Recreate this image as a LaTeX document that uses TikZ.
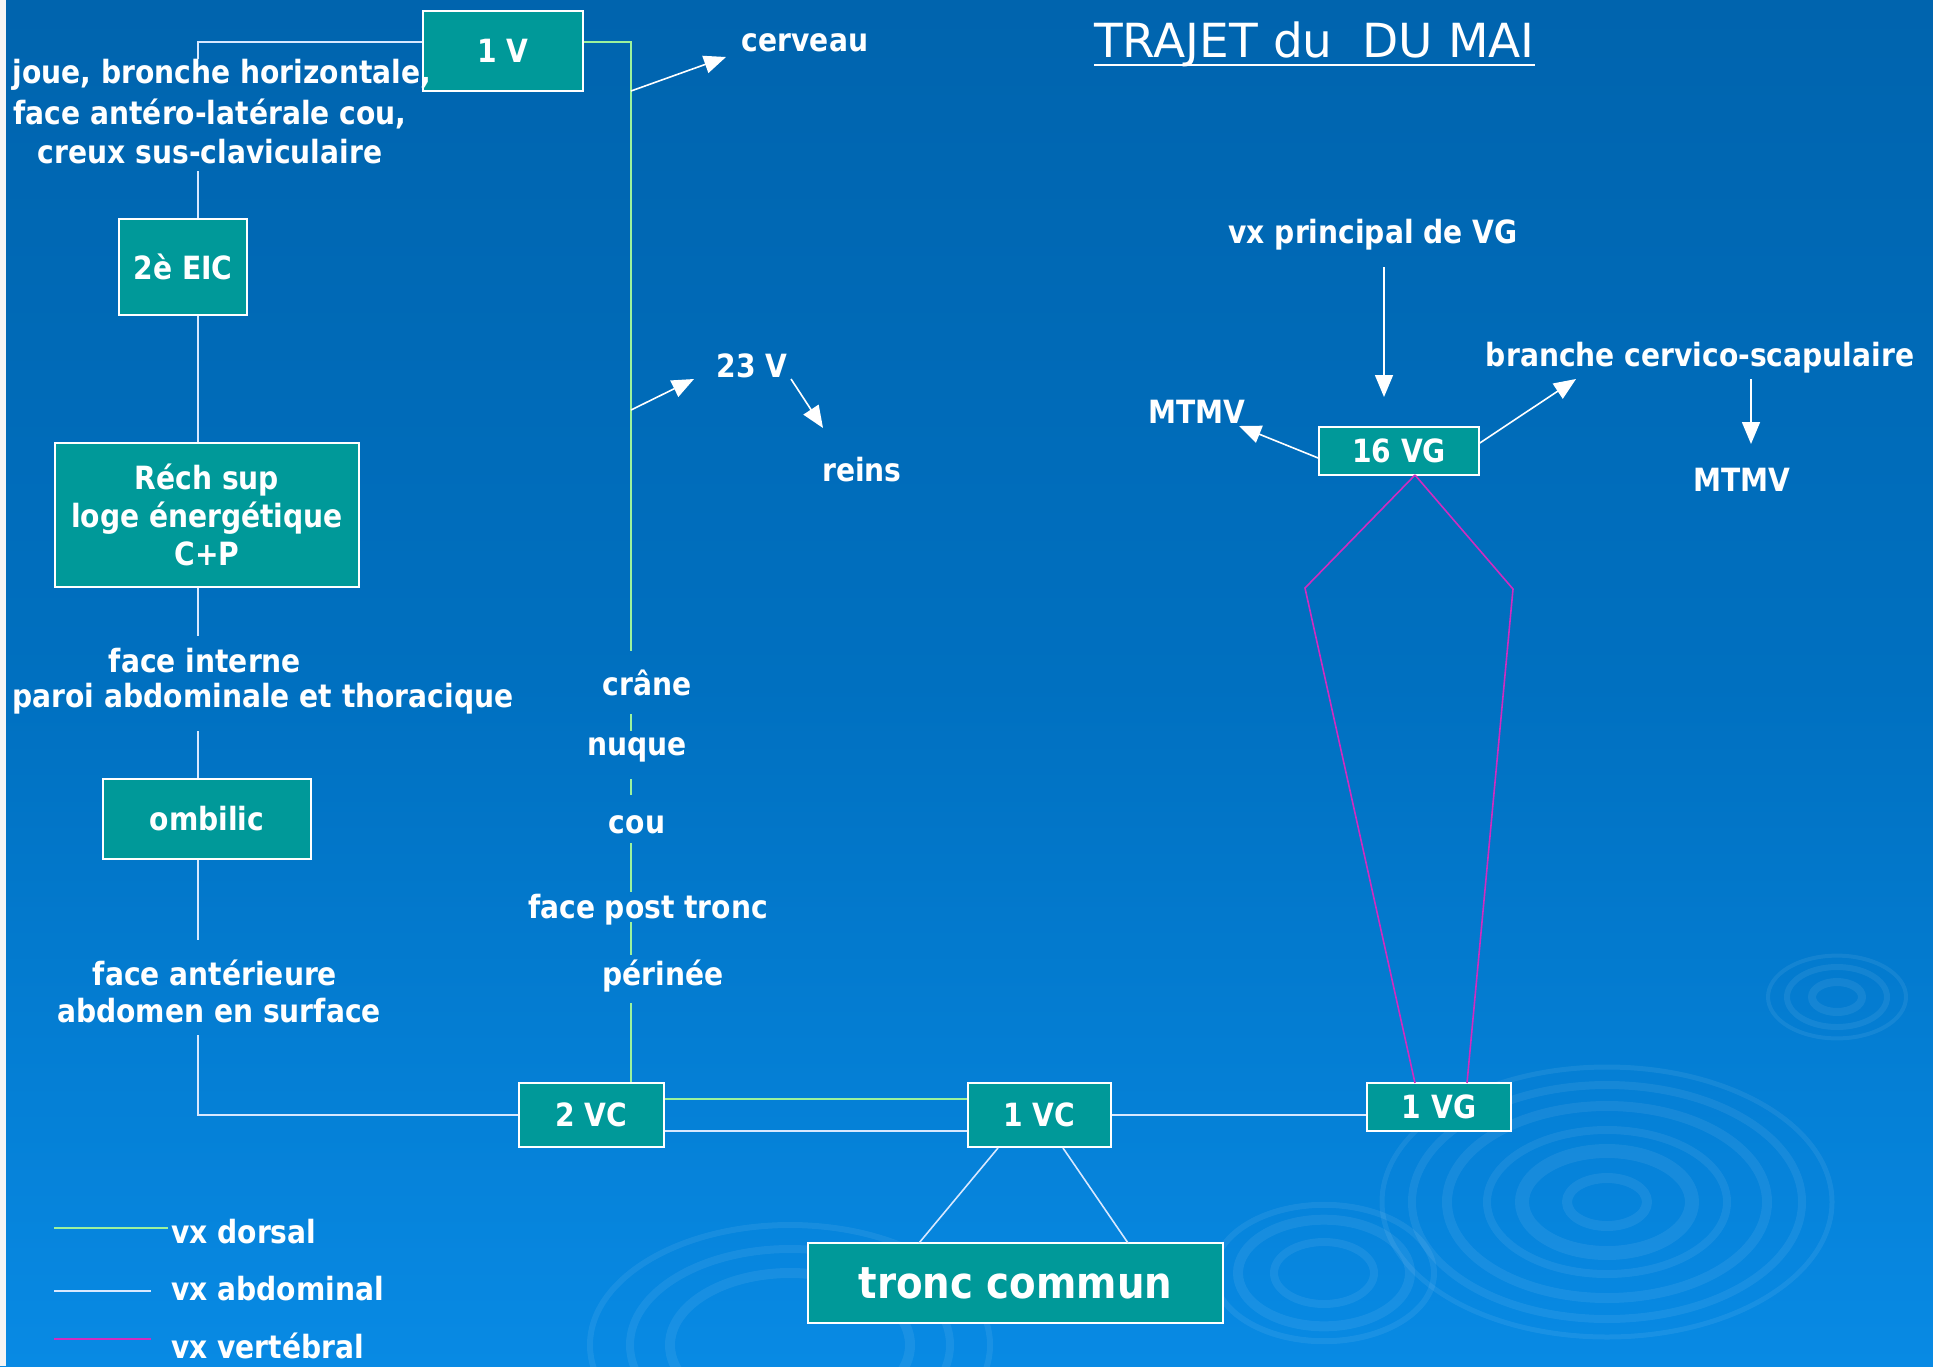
\documentclass[tikz,border=0pt]{standalone}
\usepackage{fontspec}
\setmainfont{DejaVu Sans}[FakeStretch=0.88]
\newfontfamily\titlefont{DejaVu Sans}
\usetikzlibrary{arrows.meta}
\definecolor{bgtop}{HTML}{0064AE}
\definecolor{bgmid}{HTML}{0070C0}
\definecolor{bgbot}{HTML}{088AE4}
\definecolor{boxteal}{HTML}{009999}
\definecolor{dorsal}{HTML}{9CF29C}
\definecolor{abdo}{HTML}{D8E8FF}
\definecolor{vert}{HTML}{D02CC0}
\begin{document}
\begin{tikzpicture}[x=1pt,y=-1pt,
 box/.style={draw=white, line width=1.6pt, fill=boxteal, text=white, font=\bfseries\fontsize{32}{38}\selectfont, inner sep=0pt, align=center},
 lbl/.style={text=white, font=\bfseries\fontsize{32}{38}\selectfont, inner sep=0pt, align=center},
 dors/.style={draw=dorsal, line width=1.6pt},
 abd/.style={draw=abdo, line width=1.6pt},
 vtb/.style={draw=vert, line width=1.6pt},
 arr/.style={draw=white, line width=1.6pt, -{Triangle[length=22pt,width=18pt]}},
 rip/.style={draw=white, draw opacity=0.07, line width=#1},
 rip/.default=6pt,
]
% background
\useasboundingbox (0,0) rectangle (1933,1366);
\shade[top color=bgtop, bottom color=bgbot, middle color=bgmid] (0,0) rectangle (1933,1366);
\fill[white!92!gray] (0,0) rectangle (6,1366);
% ripples
\foreach \r/\w in {225/5pt,195/8pt,160/10pt,120/8pt,85/14pt,40/10pt}
  \draw[rip=\w] (1607,1202) ellipse [x radius=\r, y radius=0.6*\r];
\foreach \r/\w in {69/4pt,50/6pt,25/8pt}
  \draw[rip=\w] (1837,997) ellipse [x radius=\r, y radius=0.6*\r];
\foreach \r/\w in {110/6pt,86/10pt,50/8pt}
  \draw[rip=\w] (1324,1273) ellipse [x radius=\r, y radius=0.62*\r];
\foreach \r/\w in {200/6pt,160/8pt,120/10pt}
  \draw[rip=\w] (790,1345) ellipse [x radius=\r, y radius=0.6*\r];

% title
\node[text=white, font=\titlefont\fontsize{47}{50}\selectfont, inner sep=0pt, anchor=base west] (title) at (1094,57) {TRAJET du\ \ DU MAI};
\draw[white, line width=2.5pt] (title.base west |- 0,65) -- (title.base east |- 0,65);

% boxes
\node[box, minimum width=160, minimum height=80] (v1) at (503,51) {1 V};
\node[box, minimum width=128, minimum height=96] (eic) at (183,267) {2è EIC};
\node[box, minimum width=304, minimum height=144] (rech) at (207,515) {Réch sup\\loge énergétique\\C+P};
\node[box, minimum width=208, minimum height=80] (omb) at (207,819) {ombilic};
\node[box, minimum width=145, minimum height=64] (vc2) at (591.5,1115) {2 VC};
\node[box, minimum width=143, minimum height=64] (vc1) at (1039.5,1115) {1 VC};
\node[box, minimum width=144, minimum height=48] (vg1) at (1439,1107) {1 VG};
\node[box, minimum width=160, minimum height=48] (vg16) at (1399,451) {16 VG};
\node[box, minimum width=415, minimum height=80, font=\bfseries\fontsize{44}{48}\selectfont] (tronc) at (1015.5,1283) {tronc commun};

% left labels
\node[lbl] (j1) at (222,75) {joue, bronche horizontale,};
\node[lbl] (j2) at (210,114) {face antéro-latérale cou,};
\node[lbl] (j3) at (210,152) {creux sus-claviculaire};
\node[lbl] (fi1) at (205,661) {face interne};
\node[lbl] (fi2) at (263,699) {paroi abdominale et thoracique};
\node[lbl] (fa1) at (215,973) {face antérieure};
\node[lbl] (fa2) at (219,1011) {abdomen en surface};

% middle labels
\node[lbl] (cerv) at (805,43) {cerveau};
\node[lbl] (v23) at (752,366) {23 V};
\node[lbl] (reins) at (862,470) {reins};
\node[lbl] (crane) at (647,683) {crâne};
\node[lbl] (nuque) at (637,750) {nuque};
\node[lbl] (cou) at (637,825) {cou};
\node[lbl] (fpt) at (648,910) {face post tronc};
\node[lbl] (peri) at (663,976) {périnée};

% right labels
\node[lbl] (vxp) at (1373,235) {vx principal de VG};
\node[lbl] (bcs) at (1700,358) {branche cervico-scapulaire};
\node[lbl] (mtmv1) at (1197,412) {MTMV};
\node[lbl] (mtmv2) at (1742,480) {MTMV};

% abdominal (left) path
\coordinate (a0) at (198,42);
\coordinate (a1) at (198,59);
\coordinate (a2) at (198,171);
\coordinate (a3) at (198,636);
\coordinate (a4) at (198,731);
\coordinate (a5) at (198,940);
\coordinate (a6) at (198,1035);
\coordinate (a7) at (198,1115);
\draw[abd] (v1.west |- a0) -- (a0) -- (a1);
\draw[abd] (a2) -- (a2 |- eic.north);
\draw[abd] (a2 |- eic.south) -- (a2 |- rech.north);
\draw[abd] (a2 |- rech.south) -- (a3);
\draw[abd] (a4) -- (a4 |- omb.north);
\draw[abd] (a4 |- omb.south) -- (a5);
\draw[abd] (a6) -- (a7) -- (vc2.west |- a7);

% dorsal (green) path
\coordinate (g0) at (631,42);
\coordinate (g1) at (631,651);
\draw[dors] (v1.east |- g0) -- (g0) -- (g1);
\draw[dors] (631,714) -- (631,731);
\draw[dors] (631,779) -- (631,795);
\draw[dors] (631,843) -- (631,892);
\draw[dors] (631,922) -- (631,955);
\draw[dors] (631,1003) -- (vc2.north -| 631,0);
\draw[dors] (vc2.east |- 0,1099) -- (vc1.west |- 0,1099);
\draw[abd] (vc2.east |- 0,1131) -- (vc1.west |- 0,1131);
\draw[abd] (vc1.east |- 0,1115) -- (vg1.west |- 0,1115);

% tronc commun links
\draw[abd] (998,1148) -- (919,1243);
\draw[abd] (1063,1148) -- (1128,1243);

% vertebral (magenta)
\coordinate (m0) at (1415,475);
\coordinate (ml) at (1305,588);
\coordinate (mr) at (1513,589);
\draw[vtb] (m0) -- (ml) -- (1415,1083);
\draw[vtb] (m0) -- (mr) -- (1467,1083);

% arrows
\coordinate (s1) at (631,91);
\coordinate (e1) at (726,57);
\draw[arr] (s1) -- (e1);
\coordinate (s2) at (631,410);
\coordinate (e2) at (694,379);
\draw[arr] (s2) -- (e2);
\coordinate (s3) at (791,379);
\coordinate (e3) at (823,428);
\draw[arr] (s3) -- (e3);
\coordinate (s4) at (1384,267);
\coordinate (e4) at (1384,397);
\draw[arr] (s4) -- (e4);
\coordinate (e5) at (1239,426);
\draw[arr] (vg16.west |- 0,458) -- (e5);
\coordinate (e6) at (1576,379);
\draw[arr] (vg16.east |- 0,443) -- (e6);
\coordinate (s7) at (1751,379);
\coordinate (e7) at (1751,444);
\draw[arr] (s7) -- (e7);

% legend
\draw[dors] (54,1228) -- (168,1228);
\node[lbl, anchor=west] (lg1) at (171,1232) {vx dorsal};
\draw[abd] (54,1291) -- (151,1291);
\node[lbl, anchor=west] (lg2) at (171,1289) {vx abdominal};
\draw[vtb] (54,1339) -- (151,1339);
\node[lbl, anchor=west] (lg3) at (171,1346) {vx vertébral};
\end{tikzpicture}
\end{document}
